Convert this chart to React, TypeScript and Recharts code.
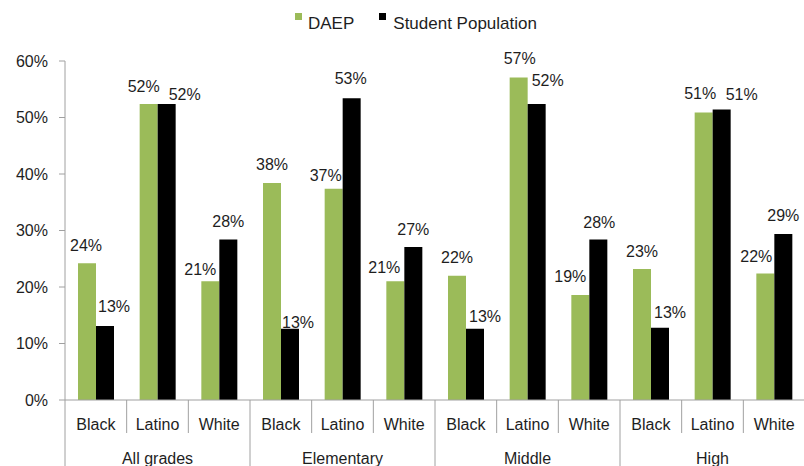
import { BarChart, Bar, XAxis, YAxis, LabelList } from 'recharts'

/* ─── Data ─── */

const gradeGroups = ['All grades', 'Elementary', 'Middle', 'High']
const raceNames = ['Black', 'Latino', 'White']

// share of DAEP placements vs share of student population, in percent
const daep = [24.2, 52.4, 21.0, 38.4, 37.4, 21.0, 22.0, 57.1, 18.6, 23.2, 50.9, 22.4]
const studentPop = [13.1, 52.4, 28.4, 12.6, 53.4, 27.1, 12.6, 52.4, 28.4, 12.8, 51.4, 29.4]

const yTicks = [0, 10, 20, 30, 40, 50, 60]

// label nudges (dx, dy from bar top) so the labels sit like in the original
const daepLabelDx = [-1, -5, -10, 0, -8, -11, 0, 1, -10, 0, -3.5, -9]
const daepLabelDy = [-12, -12, -6, -13, -8, -8, -13, -13, -13, -12, -13, -11]
const popLabelDx = [9, 18, 0, 8, -1, 0, 10, 11, 1, 10, 20, 0]
const popLabelDy = [-14, -4, -13, -1, -14, -12, -7, -18, -12, -10, -10, -13]

const rows = gradeGroups.flatMap((grade, g) =>
  raceNames.map((race, r) => {
    const i = g * 3 + r
    return { id: `${grade}-${race}`, grade, race, daep: daep[i], pop: studentPop[i] }
  })
)

/* ─── Styles ─── */

const FONT = '"Liberation Sans", Arial, sans-serif'
const GREEN = '#9bbb59'
const GRID = '#a0a0a0'
const TEXT = '#1e1e1e'

/* ─── Custom pieces ─── */

function CategoryTick(props: any) {
  const { x, y, payload } = props
  const i = props.index ?? payload.index
  const half = payload.offset || 30.8
  const row = rows[i]
  if (!row) return null
  const left = x - half
  const groupStart = i % 3 === 0
  return (
    <g>
      <line x1={left} x2={left} y1={y} y2={y + (groupStart ? 66 : 33)} stroke={GRID} strokeWidth={1} />
      {i === rows.length - 1 && (
        <line x1={x + half} x2={x + half} y1={y} y2={y + 66} stroke={GRID} strokeWidth={1} />
      )}
      <text x={x} y={y + 30} textAnchor="middle" fontSize={16} fontFamily={FONT} fill={TEXT}>
        {row.race}
      </text>
      {i % 3 === 1 && (
        <text x={x} y={y + 64} textAnchor="middle" fontSize={16} fontFamily={FONT} fill={TEXT}>
          {row.grade}
        </text>
      )}
    </g>
  )
}

function makeLabel(dxs: number[], dys: number[]) {
  return function BarLabel(props: any) {
    const { x, y, width, value, index } = props
    return (
      <text
        x={x + width / 2 + (dxs[index] || 0)}
        y={y + (dys[index] || 0)}
        textAnchor="middle"
        fontSize={16}
        fontFamily={FONT}
        fill={TEXT}
      >
        {Math.round(value)}%
      </text>
    )
  }
}

function LegendBox() {
  return (
    <div
      style={{
        position: 'absolute',
        left: 295,
        top: 14,
        display: 'flex',
        alignItems: 'flex-start',
        fontFamily: FONT,
        fontSize: 17,
        lineHeight: '20px',
        color: TEXT,
        whiteSpace: 'nowrap',
      }}
    >
      <span style={{ width: 7, height: 7, background: GREEN, marginTop: -1, marginRight: 6 }} />
      <span>DAEP</span>
      <span style={{ width: 7, height: 7, background: '#000', marginTop: -1, marginLeft: 25, marginRight: 7 }} />
      <span>Student Population</span>
    </div>
  )
}

/* ─── Main component ─── */

export default function App() {
  return (
    <div
      style={{
        position: 'absolute',
        left: 0,
        top: 0,
        width: 804,
        height: 466,
        overflow: 'hidden',
        background: '#fff',
      }}
    >
      <LegendBox />
      <BarChart
        width={806}
        height={466}
        data={rows}
        margin={{ top: 61, right: 1, left: 0, bottom: 0 }}
        barGap={0}
      >
        <XAxis
          dataKey="id"
          height={66}
          interval={0}
          tickSize={0}
          tickMargin={0}
          tickLine={false}
          axisLine={{ stroke: GRID }}
          tick={<CategoryTick />}
        />
        <YAxis
          width={65}
          domain={[0, 60]}
          ticks={yTicks}
          interval={0}
          tickSize={6}
          tickMargin={11}
          tickFormatter={(v: number) => `${v}%`}
          axisLine={{ stroke: GRID }}
          tickLine={{ stroke: GRID }}
          tick={{ fontSize: 16, fontFamily: FONT, fill: TEXT }}
        />
        <Bar dataKey="daep" name="DAEP" fill={GREEN} barSize={18} isAnimationActive={false}>
          <LabelList dataKey="daep" content={makeLabel(daepLabelDx, daepLabelDy)} />
        </Bar>
        <Bar dataKey="pop" name="Student Population" fill="#000" barSize={18} isAnimationActive={false}>
          <LabelList dataKey="pop" content={makeLabel(popLabelDx, popLabelDy)} />
        </Bar>
      </BarChart>
    </div>
  )
}
